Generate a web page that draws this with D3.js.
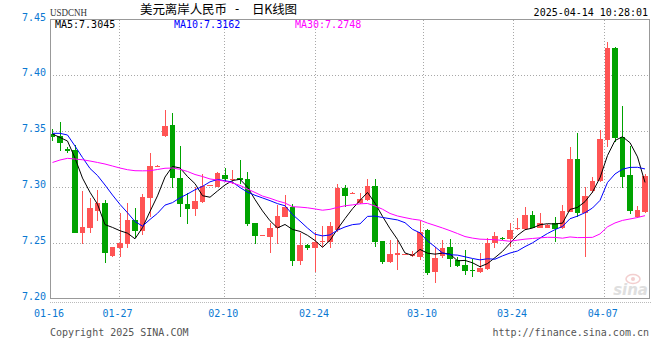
<!DOCTYPE html>
<html><head><meta charset="utf-8">
<script src="https://cdn.jsdelivr.net/npm/d3@7"></script>
<style>body{margin:0;background:#fff}svg{display:block}</style>
</head><body><svg id="c" width="660" height="360"></svg>
<script>
// ---- data ----
const openP = [7.3477,7.3453,7.3337,7.3328,7.2589,7.2633,7.2783,7.2857,7.2380,7.2454,
7.2485,7.2702,7.2606,7.2902,7.3188,7.3456,7.3552,7.3084,7.2843,7.2798,
7.2866,7.3010,7.3000,7.3105,7.3070,7.3078,7.3069,7.2673,7.2562,7.2553,
7.2628,7.2729,7.2821,7.2338,7.2479,7.2454,7.2503,7.2508,7.2613,7.2991,
7.2945,7.2854,7.2881,7.3006,7.2514,7.2329,7.2389,7.2398,7.2380,7.2371,
7.2611,7.2240,7.2380,7.2458,7.2344,7.2300,7.2257,7.2240,7.2268,7.2494,
7.2544,7.2535,7.2619,7.2622,7.2747,7.2633,7.2633,7.2678,7.2628,7.2776,
7.3248,7.2767,7.2964,7.3054,7.3424,7.4243,7.3447,7.3105,7.2732,7.2776];
const highP = [7.3522,7.3581,7.3358,7.3379,7.2964,7.2905,7.2970,7.2881,7.2463,7.2762,
7.2852,7.2807,7.2932,7.3304,7.3195,7.3686,7.3665,7.3364,7.2941,7.2995,
7.3114,7.3016,7.3131,7.3165,7.3149,7.3239,7.3134,7.2673,7.2568,7.2673,
7.2836,7.2926,7.2845,7.2589,7.2485,7.2595,7.2648,7.2687,7.3030,7.3015,
7.2950,7.2944,7.3069,7.3069,7.2514,7.2523,7.2523,7.2403,7.2428,7.2693,
7.2622,7.2463,7.2523,7.2532,7.2374,7.2434,7.2351,7.2407,7.2546,7.2598,
7.2553,7.2678,7.2717,7.2821,7.2783,7.2767,7.2665,7.2732,7.2836,7.3358,
7.3483,7.2995,7.3089,7.3507,7.4297,7.4252,7.3722,7.3367,7.2827,7.3114];
const lowP = [7.3411,7.3322,7.3304,7.2583,7.2487,7.2589,7.2696,7.2320,7.2374,7.2369,
7.2449,7.2538,7.2568,7.2732,7.3186,7.3447,7.2991,7.2732,7.2666,7.2738,
7.2852,7.3007,7.2997,7.3045,7.3030,7.3030,7.2648,7.2487,7.2559,7.2410,
7.2487,7.2729,7.2293,7.2300,7.2434,7.2234,7.2463,7.2449,7.2597,7.2821,
7.2942,7.2850,7.2878,7.2463,7.2309,7.2320,7.2255,7.2396,7.2375,7.2344,
7.2210,7.2136,7.2362,7.2284,7.2284,7.2210,7.2195,7.2231,7.2255,7.2449,
7.2528,7.2458,7.2617,7.2615,7.2630,7.2630,7.2630,7.2508,7.2622,7.2771,
7.2732,7.2374,7.2946,7.3042,7.3358,7.3402,7.2986,7.2756,7.2720,7.2762];
const closeP = [7.3447,7.3394,7.3322,7.2589,7.2642,7.2812,7.2857,7.2410,7.2463,7.2494,
7.2702,7.2606,7.2911,7.3188,7.3191,7.3546,7.3081,7.2843,7.2803,7.2872,
7.3006,7.3013,7.3123,7.3072,7.3072,7.3060,7.2666,7.2562,7.2565,7.2631,
7.2738,7.2821,7.2338,7.2479,7.2454,7.2505,7.2517,7.2648,7.2991,7.2919,
7.2947,7.2890,7.3006,7.2508,7.2329,7.2398,7.2404,7.2401,7.2398,7.2597,
7.2231,7.2360,7.2449,7.2356,7.2293,7.2249,7.2252,7.2275,7.2496,7.2559,
7.2530,7.2613,7.2633,7.2747,7.2633,7.2678,7.2660,7.2622,7.2783,7.3248,
7.2767,7.2919,7.3051,7.3427,7.4243,7.3438,7.3089,7.2783,7.2792,7.3098];
// moving-average values at the left edge (their windows start before the chart)
const ma5Head = [7.3474,7.3443,7.3411,7.3258];
const ma10Head = [7.3480,7.3480,7.3465,7.3366,7.3263,7.3165,7.3102,7.3017,7.2927];
const ma30Head = [7.3219,7.3241,7.3256,7.3250,7.3243,7.3232,7.3219,7.3205,7.3187,7.3169,
7.3154,7.3145,7.3144,7.3145,7.3156,7.3167,7.3169,7.3158,7.3138,7.3111,
7.3093,7.3071,7.3062,7.3051,7.3035,7.3013,7.2981,7.2950,7.2918];
const maNames = ["MA5","MA10","MA30"];
const maLast = ["7.3045","7.3162","7.2748"];
const yTicks = [7.20,7.25,7.30,7.35,7.40,7.45];
const xTickPos = [-0.33,8.8,22.9,35,49.4,61.4,73.5];
const xTickLabels = ["01-16","01-27","02-10","02-24","03-10","03-24","04-07"];

// ---- chart ----
const svg = d3.select("#c");
const L = 50, R = 650, T = 19.5, B = 298.5;
const n = closeP.length;
const x = d3.scaleLinear().domain([0, n-1]).range([52.5, 645]);
const y = d3.scaleLinear().domain([7.20, 7.45]).range([B, T]);
const mono = "'DejaVu Sans Mono', 'Liberation Mono', monospace";
const blueTxt = "#0a78d2";

function ma(head, w) {
  return d3.range(n).map(i => i < head.length ? head[i] : d3.mean(closeP.slice(i-w+1, i+1)));
}
const maSeries = [ma(ma5Head,5), ma(ma10Head,10), ma(ma30Head,30)];
const maColors = ["#000000","#0000ff","#ff00ff"];

// grid
const g = svg.append("g").attr("shape-rendering","crispEdges");
yTicks.filter(v => v > 7.20 && v < 7.45).forEach(v => {
  const yy = Math.round(y(v)) + 0.5;
  g.append("line").attr("x1",L).attr("x2",R).attr("y1",yy).attr("y2",yy)
    .attr("stroke","#a8a8a8").attr("stroke-dasharray","1,2");
});
xTickPos.slice(1).forEach(p => {
  const xx = Math.round(x(p)) + 0.5;
  g.append("line").attr("x1",xx).attr("x2",xx).attr("y1",T).attr("y2",B)
    .attr("stroke","#a8a8a8").attr("stroke-dasharray","1,2");
});

// watermark
const wm = svg.append("g").attr("opacity",0.5);
wm.append("ellipse").attr("cx",633).attr("cy",279).attr("rx",7).attr("ry",4.5).attr("fill","none").attr("stroke","#e8a0a0").attr("stroke-width",1.5);
wm.append("circle").attr("cx",633).attr("cy",279).attr("r",2).attr("fill","#e8a0a0");
wm.append("text").attr("x",648).attr("y",295).attr("text-anchor","end")
  .attr("font-family","'DejaVu Sans', sans-serif").attr("font-style","italic").attr("font-weight","bold")
  .attr("font-size",15).attr("fill","#c0c0c0").text("sina");

// candles
const up = "#ff5454", down = "#00a300";
const cg = svg.append("g").attr("shape-rendering","crispEdges");
d3.range(n).forEach(i => {
  const o = openP[i], c = closeP[i], col = c >= o ? up : down;
  const cx = x(i);
  const wx = Math.round(cx - 0.5);
  cg.append("rect").attr("x", wx).attr("width", 1)
    .attr("y", y(highP[i])).attr("height", Math.max(1, y(lowP[i]) - y(highP[i])))
    .attr("fill", col);
  const top = y(Math.max(o,c)), bot = y(Math.min(o,c));
  cg.append("rect").attr("x", cx - 2.75).attr("width", 5.5)
    .attr("y", top).attr("height", Math.max(1, bot - top)).attr("fill", col);
});

// MA lines
maSeries.forEach((s, k) => {
  svg.append("path").datum(s)
    .attr("d", d3.line().x((d,i) => x(i)).y(d => y(d)))
    .attr("fill","none").attr("stroke", maColors[k]).attr("stroke-width",1);
});

// frame
const fr = svg.append("g").attr("shape-rendering","crispEdges").attr("stroke","#999").attr("fill","none");
fr.append("rect").attr("x",L+0.5).attr("y",T).attr("width",R-L-1).attr("height",B-T);
fr.append("line").attr("x1",L).attr("x2",R+2).attr("y1",B+3.5).attr("y2",B+3.5).attr("stroke","#bbb").attr("stroke-dasharray","1,1");

// y labels
svg.append("g").selectAll("text").data(yTicks).join("text")
  .attr("x", 46).attr("y", d => y(d) + 1).attr("text-anchor","end")
  .attr("font-family", mono).attr("font-size", 10).attr("fill", blueTxt)
  .text(d => d.toFixed(2));

// x labels
svg.append("g").selectAll("text").data(xTickPos).join("text")
  .attr("x", d => Math.max(x(d), 50) - 1).attr("y", 317).attr("text-anchor","middle")
  .attr("font-family", mono).attr("font-size", 10).attr("fill", blueTxt)
  .text((d,i) => xTickLabels[i]);

// header
svg.append("text").attr("x",50).attr("y",16).attr("font-family","'Liberation Serif', serif")
  .attr("font-size",11).attr("fill","#333").attr("textLength",37).attr("lengthAdjust","spacingAndGlyphs").text("USDCNH");
const cjk = "'Noto Sans CJK SC', sans-serif";
svg.append("text").attr("x",140).attr("y",14).attr("font-family",cjk).attr("font-size",12.5).attr("fill","#000")
  .attr("textLength",87).attr("lengthAdjust","spacing").text("美元离岸人民币");
svg.append("text").attr("x",237).attr("y",13).attr("font-family",mono).attr("font-size",12).attr("text-anchor","middle").attr("fill","#000").text("-");
svg.append("text").attr("x",252).attr("y",14).attr("font-family",cjk).attr("font-size",12.5).attr("fill","#000")
  .attr("textLength",45).attr("lengthAdjust","spacing").text("日K线图");
svg.append("text").attr("x",648).attr("y",16).attr("text-anchor","end").attr("font-family",mono).attr("font-size",10).attr("fill","#000").text("2025-04-14 10:28:01");

const legX = [55,174,295];
maNames.forEach((m,k) => {
  svg.append("text").attr("x",legX[k]).attr("y",27.5).attr("font-family",mono).attr("font-size",10)
    .attr("fill",maColors[k]).text(m + ":" + maLast[k]);
});

// footer
svg.append("text").attr("x",50).attr("y",336).attr("font-family",mono).attr("font-size",10).attr("fill","#555").text("Copyright 2025 SINA.COM");
svg.append("text").attr("x",649).attr("y",336).attr("text-anchor","end").attr("font-family",mono).attr("font-size",10).attr("fill","#555").text("http://finance.sina.com.cn");
</script></body></html>
